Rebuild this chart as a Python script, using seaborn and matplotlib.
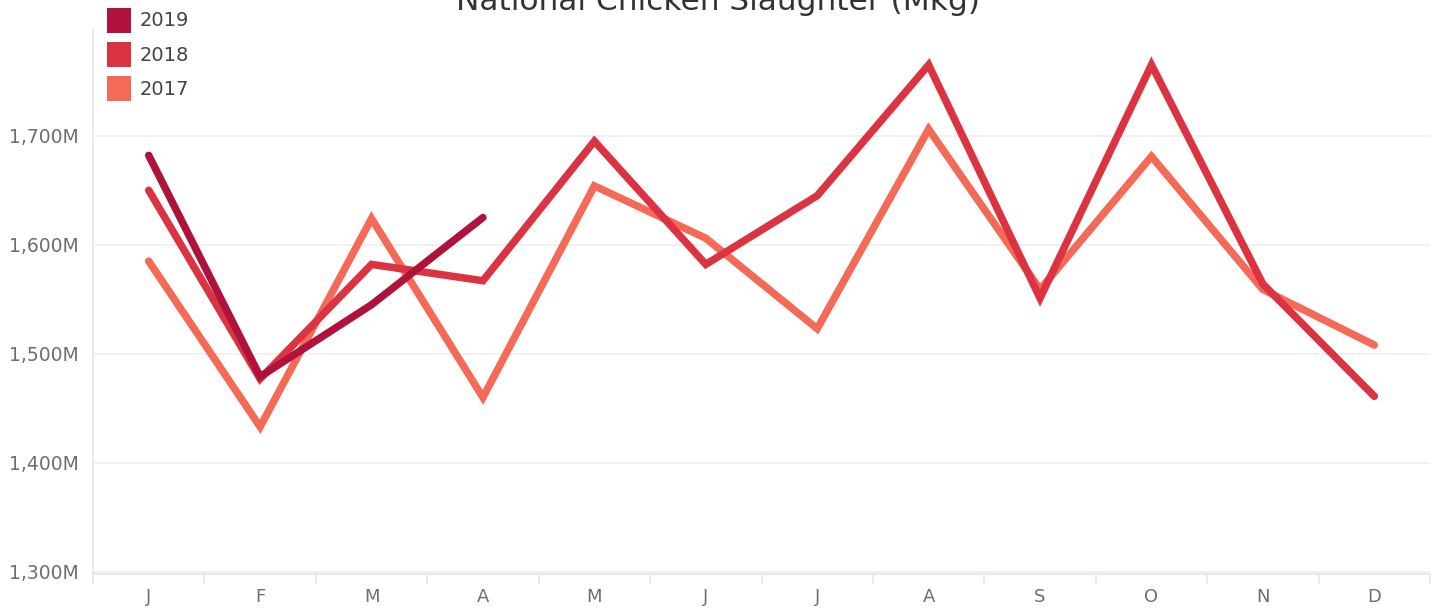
import numpy as np
import pandas as pd
import matplotlib
matplotlib.use("Agg")
import matplotlib.pyplot as plt
import seaborn as sns
from matplotlib.patches import Patch
from matplotlib.ticker import FuncFormatter, FixedLocator

months = ["J", "F", "M", "A", "M", "J", "J", "A", "S", "O", "N", "D"]
years = ["2017", "2018", "2019"]

# national chicken slaughter, millions of kg
v2017 = [1585, 1433, 1624, 1460, 1654, 1606, 1523, 1706, 1559, 1681, 1559, 1508]
v2018 = [1650, 1477, 1582, 1567, 1695, 1582, 1645, 1765, 1551, 1765, 1564, 1461]
v2019 = [1682, 1479, 1545, 1625]

colores = {"2019": "#af133b", "2018": "#dc3343", "2017": "#f46a56"}

filas = []
for anio, vals in zip(years, [v2017, v2018, v2019]):
    for i, v in enumerate(vals):
        filas.append({"mes": i, "valor": v, "anio": anio})
df = pd.DataFrame(filas)

sns.set_style("white")
plt.rcParams["font.family"] = ["DejaVu Sans"]

fig = plt.figure(figsize=(14.37, 6.08), dpi=100)
ax = fig.add_axes([93 / 1437, 1 - 574 / 608, (1430 - 93) / 1437, (574 - 30) / 608])

sns.lineplot(data=df, x="mes", y="valor", hue="anio", hue_order=years,
             palette=colores, linewidth=5.4, estimator=None, sort=False,
             legend=False, ax=ax, solid_capstyle="round", solid_joinstyle="miter")

ax.set_xlim(-0.5, 11.5)
ax.set_ylim(1298, 1797)
ax.yaxis.set_major_locator(FixedLocator([1300, 1400, 1500, 1600, 1700]))
ax.yaxis.set_major_formatter(FuncFormatter(lambda v, p: f"{v:,.0f}M"))
ax.set_xticks(range(12))
ax.set_xticklabels(months)
ax.set_xticks(np.arange(-0.5, 12, 1), minor=True)
ax.tick_params(axis="x", which="major", bottom=False, length=0, pad=10, labelsize=13, labelcolor="#6e6e6e")
ax.tick_params(axis="x", which="minor", bottom=True, length=7, width=1.2, color="#e6e6e6", direction="out")
ax.tick_params(axis="y", length=0, pad=10, labelsize=13.5, labelcolor="#6e6e6e")
ax.set_xlabel("")
ax.set_ylabel("")

ax.grid(axis="y", color="#efefef", linewidth=1.2)
ax.grid(axis="x", visible=False)
for lado in ["top", "right"]:
    ax.spines[lado].set_visible(False)
for lado in ["left", "bottom"]:
    ax.spines[lado].set_color("#e6e6e6")
    ax.spines[lado].set_linewidth(1.2)

fig.text(0.5, 1 - 10 / 608, "National Chicken Slaughter (Mkg)", ha="center",
         va="baseline", fontsize=22.5, color="#333333")

handles = [Patch(facecolor=colores[a], edgecolor="none", label=a) for a in ["2019", "2018", "2017"]]
fig.legend(handles=handles, loc="upper left", bbox_to_anchor=(93 / 1437, 1 + 6 / 608),
           frameon=False, fontsize=14, handlelength=1.25, handleheight=1.6,
           handletextpad=0.45, labelspacing=0.48, labelcolor="#444444", borderpad=0.2)

fig.savefig("out.png", dpi=100)
